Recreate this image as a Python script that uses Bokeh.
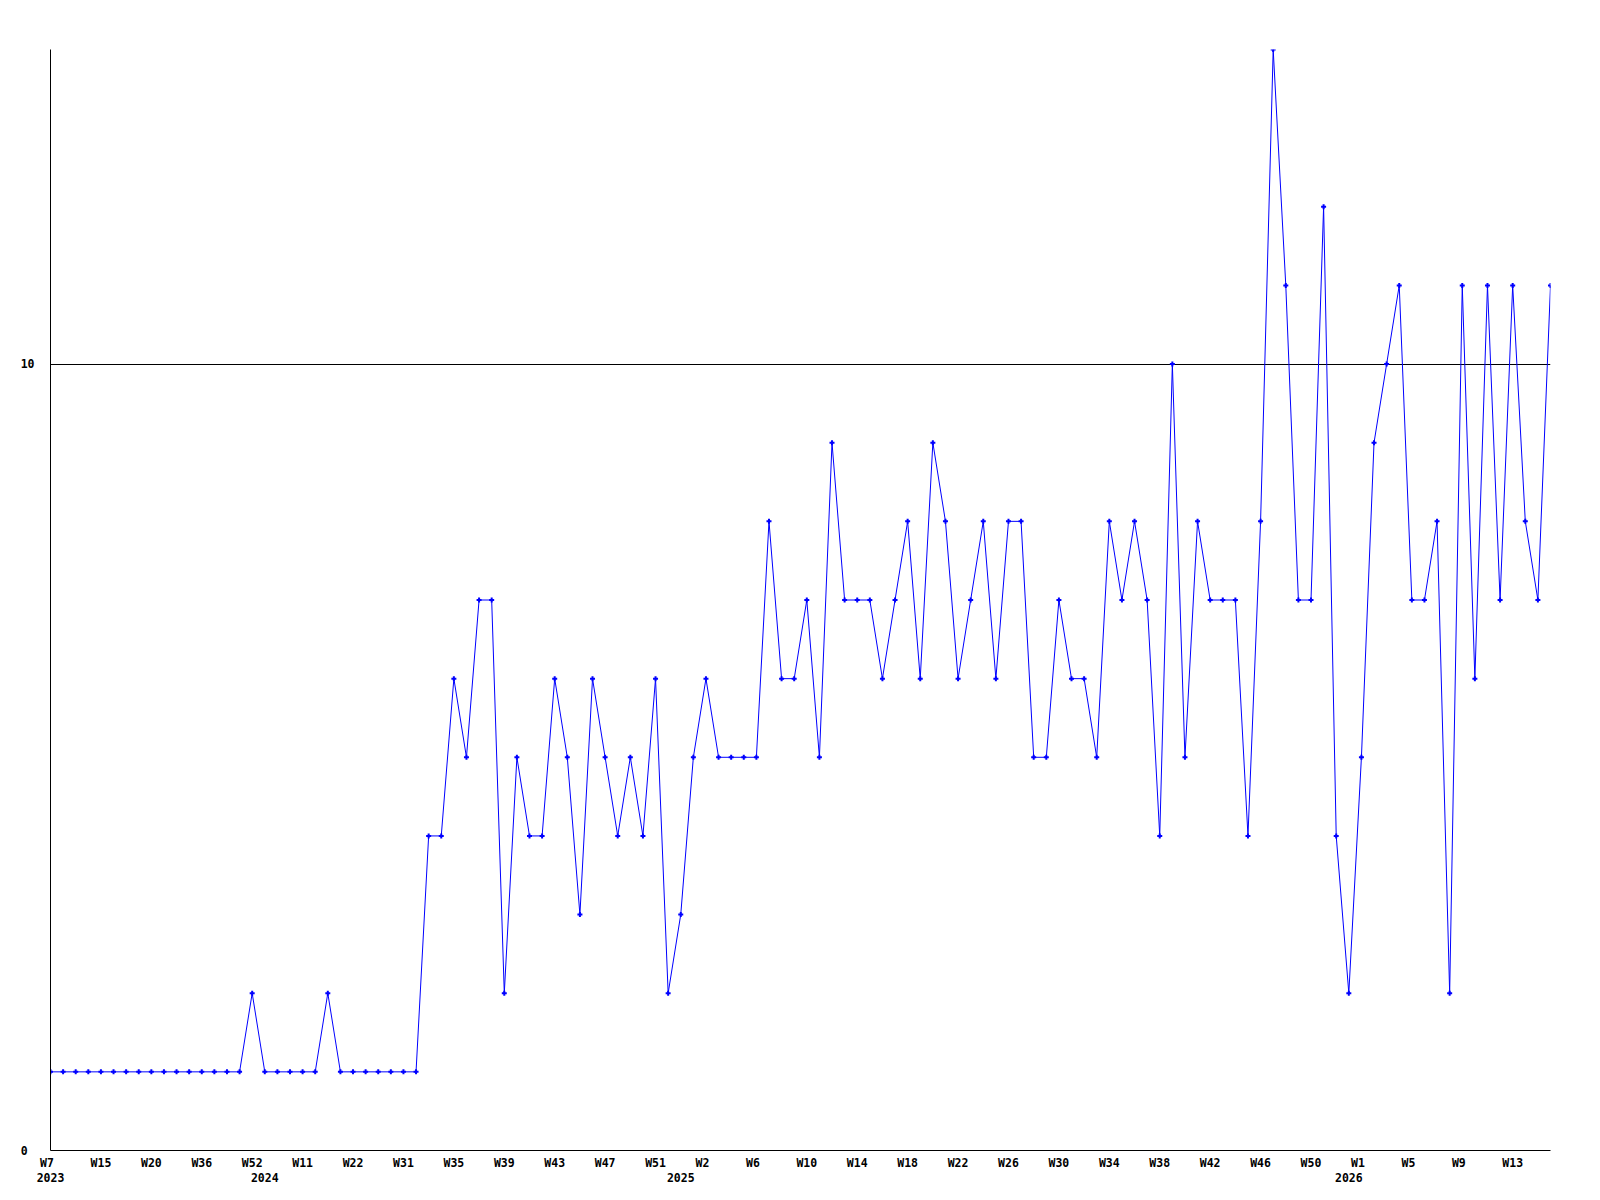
from bokeh.plotting import figure
from bokeh.models import Range1d, FixedTicker, LinearAxis
from bokeh.embed import file_html
from bokeh.resources import INLINE

# weekly counts (one point per week in the series)
values = [1, 1, 1, 1, 1, 1, 1, 1, 1, 1, 1, 1, 1, 1, 1, 1,
          2, 1, 1, 1, 1, 1, 2, 1, 1, 1, 1, 1, 1, 1,
          4, 4, 6, 5, 7, 7, 2, 5, 4, 4,
          6, 5, 3, 6, 5, 4, 5, 4, 6, 2,
          3, 5, 6, 5, 5, 5, 5, 8, 6, 6,
          7, 5, 9, 7, 7, 7, 6, 7, 8, 6,
          9, 8, 6, 7, 8, 6, 8, 8, 5, 5,
          7, 6, 6, 5, 8, 7, 8, 7, 4, 10,
          5, 8, 7, 7, 7, 4, 8, 14, 11, 7,
          7, 12, 4, 2, 5, 9, 10, 11, 7, 7,
          8, 2, 11, 6, 11, 7, 11, 8, 7, 11]

# week tick labels (every 4th point)
week_labels = ["W7", "W15", "W20", "W36", "W52", "W11", "W22", "W31", "W35", "W39",
               "W43", "W47", "W51", "W2", "W6", "W10", "W14", "W18", "W22", "W26",
               "W30", "W34", "W38", "W42", "W46", "W50", "W1", "W5", "W9", "W13"]

# year labels and the point where each year starts
years = ["2023", "2024", "2025", "2026"]
year_start = [0, 17, 50, 103]

y_ticks = [0, 10]
y_tick_labels = ["0", "10"]

FONT = "DejaVu Sans Mono"
FS = "11.5px"
NB = "\u00a0"

x = list(range(len(values)))
week_ticks = list(range(0, len(values), 4))[:len(week_labels)]

p = figure(frame_width=1500, frame_height=1101,
           x_range=Range1d(0, len(values) - 1), y_range=Range1d(0, 14),
           output_backend="svg", toolbar_location=None,
           min_border_left=50, min_border_top=49, min_border_right=30, min_border_bottom=40)
p.outline_line_color = None
p.background_fill_color = "white"
p.border_fill_color = "white"

p.line(x, values, line_color="#0000ff", line_width=1)
p.scatter(x, values, marker="cross", size=5, line_color="#0000ff", line_width=2)

# x axis (weeks) - labels padded to three character cells, as in the original
xa = p.xaxis[0]
xa.ticker = FixedTicker(ticks=week_ticks)
xa.major_label_overrides = {t: l.ljust(3, NB) for t, l in zip(week_ticks, week_labels)}
xa.major_tick_out = 0
xa.major_tick_in = 0
xa.minor_tick_line_color = None
xa.axis_line_color = "black"
xa.major_label_standoff = 5
xa.major_label_text_font = FONT
xa.major_label_text_font_style = "bold"
xa.major_label_text_font_size = FS
xa.major_label_text_color = "black"

# year axis below
ya2 = LinearAxis(ticker=FixedTicker(ticks=year_start),
                 major_label_overrides={t: l for t, l in zip(year_start, years)})
ya2.axis_line_color = None
ya2.major_tick_line_color = None
ya2.major_tick_out = 0
ya2.major_tick_in = 0
ya2.minor_tick_line_color = None
ya2.minor_tick_out = 0
ya2.major_label_standoff = 0
ya2.major_label_text_font = FONT
ya2.major_label_text_font_style = "bold"
ya2.major_label_text_font_size = FS
ya2.major_label_text_color = "black"
p.add_layout(ya2, "below")

# y axis - labels left-aligned in a two character field
yax = p.yaxis[0]
yax.ticker = FixedTicker(ticks=y_ticks)
yax.major_label_overrides = {t: l.ljust(2, NB) for t, l in zip(y_ticks, y_tick_labels)}
yax.major_tick_out = 0
yax.major_tick_in = 0
yax.minor_tick_line_color = None
yax.axis_line_color = "black"
yax.major_label_standoff = 16
yax.major_label_text_font = FONT
yax.major_label_text_font_style = "bold"
yax.major_label_text_font_size = FS
yax.major_label_text_color = "black"

p.xgrid.grid_line_color = None
p.ygrid.ticker = FixedTicker(ticks=y_ticks)
p.ygrid.grid_line_color = "black"
p.ygrid.grid_line_width = 1

open("out.html", "w").write(file_html(p, INLINE))
